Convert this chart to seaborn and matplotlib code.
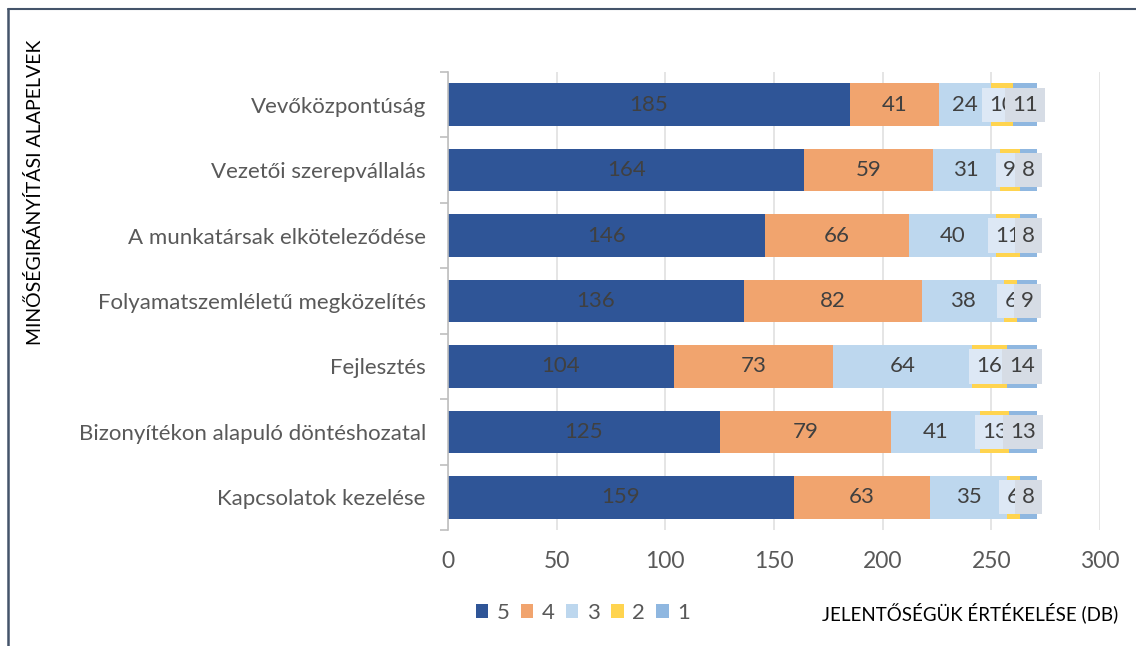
import numpy as np
import pandas as pd
import matplotlib.pyplot as plt
import seaborn as sns
from matplotlib.patches import Patch
from matplotlib.lines import Line2D
from matplotlib import font_manager

categories = ["Vevőközpontúság", "Vezetői szerepvállalás", "A munkatársak elköteleződése",
              "Folyamatszemléletű megközelítés", "Fejlesztés",
              "Bizonyítékon alapuló döntéshozatal", "Kapcsolatok kezelése"]
score5 = [185, 164, 146, 136, 104, 125, 159]
score4 = [41, 59, 66, 82, 73, 79, 63]
score3 = [24, 31, 40, 38, 64, 41, 35]
score2 = [10, 9, 11, 6, 16, 13, 6]
score1 = [11, 8, 8, 9, 14, 13, 8]
series_names = ["5", "4", "3", "2", "1"]
colors = ["#2f5597", "#f1a46e", "#bdd7ee", "#ffd44f", "#8fb7e0"]
label_box = [None, None, None, "#dde8f5", "#d6dce5"]

sns.set_theme(style="white")
plt.rcParams['font.family'] = ['Lato', 'DejaVu Sans']
names = {f.name for f in font_manager.fontManager.ttflist}
narrow = 'Liberation Sans Narrow' if 'Liberation Sans Narrow' in names else 'Lato'

vals = np.array([score5, score4, score3, score2, score1]).T
cum = vals.cumsum(axis=1)
df = pd.DataFrame(cum, columns=series_names)
df["cat"] = categories

fig = plt.figure(figsize=(11.36, 6.46), dpi=100)
ax = fig.add_axes([448/1136, 1-530/646, (1100-448)/1136, (530-72)/646])

# stacked bars: draw cumulative totals from the widest down
for i in reversed(range(5)):
    sns.barplot(data=df, x=series_names[i], y="cat", orient="h", color=colors[i],
                saturation=1, width=0.65, linewidth=0, ax=ax, zorder=2)

for i in range(5):
    for j in range(len(categories)):
        v = vals[j, i]
        center = cum[j, i] - v / 2
        kw = {}
        if label_box[i]:
            kw['bbox'] = dict(boxstyle='square,pad=0.32', facecolor=label_box[i], edgecolor='none')
        ax.text(center, j, str(v), ha='center', va='center', color='#404040',
                fontsize=16, zorder=5 + i, **kw)

ax.set_xlim(0, 300)
ax.set_ylim(6.5, -0.5)
ax.set_xticks(range(0, 301, 50))
ax.grid(axis='x', color='#e3e3e3', lw=1.3, zorder=0)
ax.set_axisbelow(True)
for s in ['top', 'right', 'bottom']:
    ax.spines[s].set_visible(False)
ax.spines['left'].set_color('#bfbfbf')
ax.spines['left'].set_linewidth(1.2)
ax.set_yticks(np.arange(-0.5, 7, 1), minor=True)
ax.tick_params(axis='y', which='minor', length=6, color='#bfbfbf', width=1.2, left=True)
ax.tick_params(axis='y', which='major', length=0, pad=16, labelsize=16, labelcolor='#595959')
ax.tick_params(axis='x', length=0, pad=15, labelsize=16.5, labelcolor='#595959')
ax.set_xlabel("")
ax.set_ylabel("")

handles = [Patch(facecolor=c, edgecolor='none') for c in colors]
fig.legend(handles, series_names, loc='center left', bbox_to_anchor=(476/1136, 1-613/646),
           ncol=5, frameon=False, fontsize=16, labelcolor='#595959',
           handlelength=0.55, handleheight=0.55, handletextpad=0.4, columnspacing=0.5,
           borderaxespad=0, borderpad=0)

fig.text(1118/1136, 1-613/646, "JELENTŐSÉGÜK ÉRTÉKELÉSE (DB)", ha='right', va='center',
         fontsize=13.5, color='black', family=narrow)
fig.text(35/1136, 1-40/646, "MINŐSÉGIRÁNYÍTÁSI ALAPELVEK", ha='center', va='top',
         rotation=90, fontsize=14, color='black', family=narrow)

# frame lines
fig.add_artist(Line2D([7.5/1136, 1], [1-8.5/646, 1-8.5/646], transform=fig.transFigure,
                      color='#44546a', lw=1.5))
fig.add_artist(Line2D([7.5/1136, 7.5/1136], [0, 1-8.5/646], transform=fig.transFigure,
                      color='#44546a', lw=1.8))

fig.savefig("out.png", dpi=100)
